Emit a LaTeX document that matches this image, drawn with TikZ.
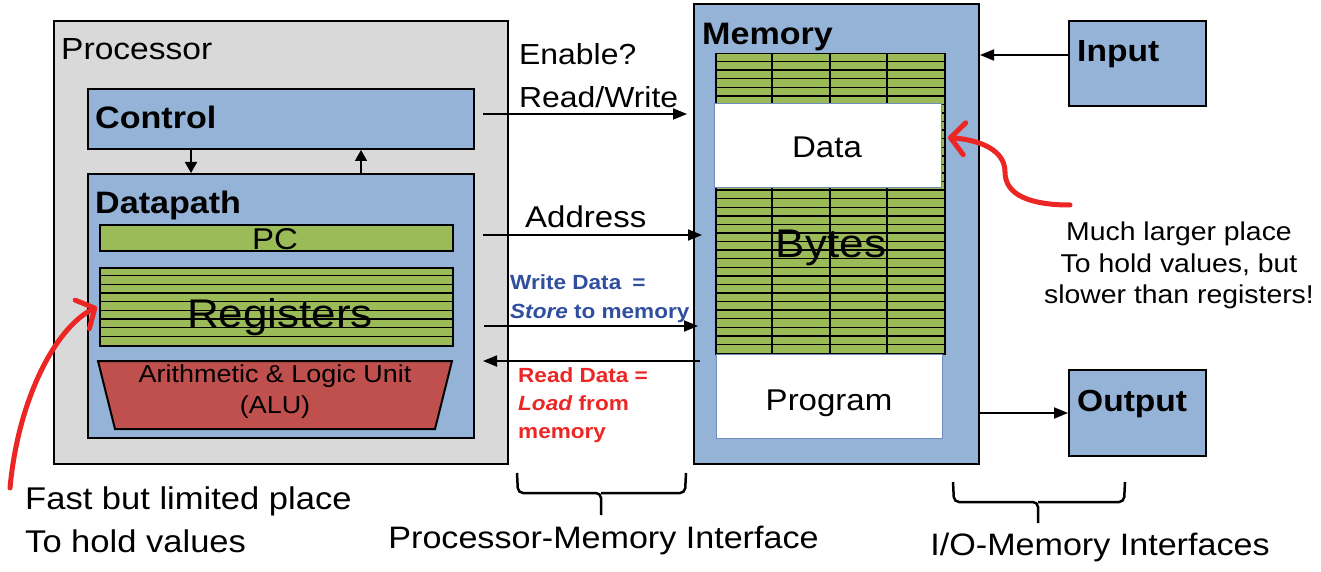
\documentclass[tikz,border=0pt]{standalone}
\usepackage{fontspec}
\setmainfont[FakeStretch=1.1]{Liberation Sans}
\usetikzlibrary{arrows.meta}
\definecolor{procgray}{RGB}{217,217,217}
\definecolor{boxblue}{RGB}{149,179,215}
\definecolor{regreen}{RGB}{155,187,89}
\definecolor{alured}{RGB}{192,80,77}
\definecolor{annred}{RGB}{236,38,36}
\definecolor{annblue}{RGB}{48,78,160}
\definecolor{datab}{RGB}{110,140,190}
\newcommand{\fsz}[1]{\fontsize{#1}{#1}\selectfont}
\begin{document}
\begin{tikzpicture}[x=1pt,y=-1pt,
  box/.style={draw=black, line width=2pt, inner sep=0pt, anchor=north west},
  lbl/.style={inner sep=0pt, anchor=base west},
  clbl/.style={inner sep=0pt, anchor=base},
  arr/.style={line width=1.8pt, -{Triangle[length=14pt,width=11pt]}},
  sarr/.style={line width=1.6pt, -{Triangle[length=11pt,width=12pt]}},
  gl/.style={line width=1.4pt},
  redarr/.style={draw=annred, line width=5pt, line cap=round, -{Straight Barb[length=14pt,width=32pt,round]}},
  bracestyle/.style={line width=2.5pt, rounded corners=5pt}]
\fill[white] (0,0) rectangle (1321,572);
\useasboundingbox (0,0) rectangle (1321,572);

% Processor
\node[box, fill=procgray, minimum width=454pt, minimum height=443pt] (proc) at (53,20) {};
\node[lbl, font={\fsz{30.5}}] (tproc) at (61,60) {Processor};
\node[box, fill=boxblue, minimum width=386pt, minimum height=60pt] (control) at (87,88) {};
\node[lbl, font={\fsz{31}\bfseries}] (tcontrol) at (95,129) {Control};
\node[box, fill=boxblue, minimum width=386pt, minimum height=264pt] (datapath) at (87,173) {};
\node[lbl, font={\fsz{31}\bfseries}] (tdatapath) at (95,213) {Datapath};
\node[box, fill=regreen, minimum width=353pt, minimum height=26pt] (pc) at (99,224) {};
\node[clbl, font={\fsz{30}}] (tpc) at (275,249) {PC};
\node[box, fill=regreen, minimum width=353pt, minimum height=78pt] (regs) at (99,267) {};
\foreach \k in {1,...,8} {\draw[gl] (99,{267+\k*78/9}) -- (452,{267+\k*78/9});}
\node[clbl, font={\fsz{40}}] (tregs) at (280,327) {Registers};
\draw[line width=2pt, fill=alured] (98,361) -- (452,361) -- (435,429) -- (115,429) -- cycle;
\node[clbl, font={\fsz{24.5}}] (talu1) at (275,382) {Arithmetic \& Logic Unit};
\node[clbl, font={\fsz{24.5}}] (talu2) at (275,413) {(ALU)};
\draw[sarr] ([xshift=-90pt]control.south) -- ([xshift=-90pt]datapath.north);
\draw[sarr] ([xshift=80pt]datapath.north) -- ([xshift=80pt]control.south);

% Memory
\node[box, fill=boxblue, minimum width=285pt, minimum height=460pt] (memory) at (693,3) {};
\node[lbl, font={\fsz{31}\bfseries}] (tmemory) at (702,45) {Memory};
\node[box, fill=regreen, line width=1.5pt, minimum width=229pt, minimum height=300pt] (grid) at (715,53) {};
\foreach \k in {1,...,34} {\draw[gl] (715,{53+\k*300/35}) -- (944,{53+\k*300/35});}
\foreach \x in {772,830,887} {\draw[gl] (\x,53) -- (\x,353);}
\node[box, fill=white, draw=datab, line width=1pt, minimum width=227pt, minimum height=84pt] (data) at (714,103) {};
\node[clbl, font={\fsz{30}}] (tdata) at (827,158) {Data};
\node[box, fill=white, draw=datab, line width=1pt, minimum width=226pt, minimum height=84pt] (program) at (716,354) {};
\node[clbl, font={\fsz{30}}] (tprogram) at (829,410) {Program};
\node[clbl, font={\fsz{40}}] (tbytes) at (831,257) {Bytes};

% I/O
\node[box, fill=boxblue, minimum width=137pt, minimum height=85pt] (input) at (1068,20) {};
\node[lbl, font={\fsz{30.5}\bfseries}] (tinput) at (1077,62) {Input};
\node[box, fill=boxblue, minimum width=137pt, minimum height=86pt] (output) at (1068,369) {};
\node[lbl, font={\fsz{30.5}\bfseries}] (toutput) at (1077,411) {Output};
\coordinate (s5) at ([yshift=8.5pt]input.west);
\draw[arr] (s5) -- (s5 -| memory.east);
\draw[arr] (output.west -| memory.east) -- (output.west);

% Processor-memory connectors
\coordinate (s1) at (483,114);
\draw[arr, shorten >=6pt] (s1) -- (s1 -| memory.west);
\coordinate (s2) at (483,235);
\draw[arr, shorten >=-9pt] (s2) -- (s2 -| memory.west);
\coordinate (s3) at (484,326);
\draw[arr, shorten >=-5pt] (s3) -- (s3 -| memory.west);
\coordinate (s4) at (483,361);
\draw[arr, shorten <=-7pt] (s4 -| memory.west) -- (s4);

\node[lbl, font={\fsz{29}}] (tenable) at (519,65) {Enable?};
\node[lbl, font={\fsz{29}}] (trw) at (519,108) {Read/Write};
\node[lbl, font={\fsz{30}}] (taddr) at (525,227) {Address};
\node[lbl, font={\fsz{20.5}\bfseries}, text=annblue] (twd1) at (510,289) {Write Data\hspace{11pt}=};
\node[lbl, font={\fsz{20.5}\bfseries}, text=annblue] (twd2) at (510,318) {\textit{Store} to memory};
\node[lbl, font={\fsz{20.5}\bfseries}, text=annred] (trd1) at (518,382) {Read Data =};
\node[lbl, font={\fsz{20.5}\bfseries}, text=annred] (trd2) at (518,410) {\textit{Load} from};
\node[lbl, font={\fsz{20.5}\bfseries}, text=annred] (trd3) at (518,438) {memory};

% annotations
\node[clbl, font={\fsz{25.8}}] (tm1) at (1179,240) {Much larger place};
\node[clbl, font={\fsz{25.8}}] (tm2) at (1179,272) {To hold values, but};
\node[clbl, font={\fsz{25.8}}] (tm3) at (1179,303) {slower than registers!};
\node[lbl, font={\fsz{31.4}}] (tf1) at (25,509) {Fast but limited place};
\node[lbl, font={\fsz{31.4}}] (tf2) at (25,552) {To hold values};

\coordinate (rl) at (10,488);
\draw[redarr] (rl) .. controls (18,400) and (55,328) .. ([xshift=-2pt]regs.west);
\coordinate (rr) at (1070,205);
\coordinate (dtip) at ([xshift=6pt,yshift=8pt]data.east);
\draw[redarr] (rr) .. controls (1030,205) and (1005,195) .. (1005,172) .. controls (1005,150) and (980,140) .. (dtip);

% braces
\draw[bracestyle] (517,473) -- (518,493) -- (601,493) -- (601,515);
\draw[bracestyle] (686,473) -- (685,493) -- (601,493);
\draw[bracestyle] (953,482) -- (954,502) -- (1038,502) -- (1038,523);
\draw[bracestyle] (1125,482) -- (1124,502) -- (1038,502);
\node[clbl, font={\fsz{31}}] (tpmi) at (603.5,548) {Processor-Memory Interface};
\node[clbl, font={\fsz{31}}] (tiomi) at (1100,555) {I/O-Memory Interfaces};
\end{tikzpicture}
\end{document}
